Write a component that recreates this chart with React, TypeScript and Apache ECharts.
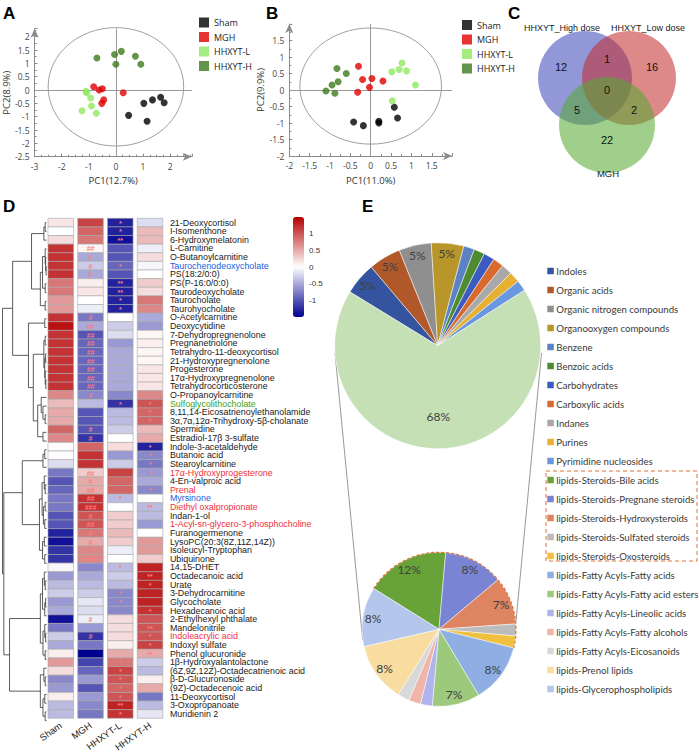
import React, { useEffect, useRef } from "react";
import * as echarts from "echarts";

// ---------------- Panel A / B : PCA ----------------
const groupNames = ["Sham", "MGH", "HHXYT-L", "HHXYT-H"];
const groupColors = ["#000000", "#e00000", "#90e860", "#3e7a1e"];

const pcaA_Sham = [[1.03, -0.5], [1.35, -0.37], [1.65, -0.27], [1.78, -0.48], [0.47, -0.95], [1.15, -1.17]];
const pcaA_MGH = [[-0.82, 0.12], [-0.62, 0.0], [-0.5, 0.05], [-0.45, -0.37], [-0.52, -0.5], [0.27, -0.1]];
const pcaA_L = [[-1.1, -0.05], [-1.08, -0.1], [-0.93, -0.3], [-1.25, -0.78], [-0.9, -0.6], [-0.72, -0.87]];
const pcaA_H = [[-0.7, 1.2], [-0.05, 1.33], [0.2, 1.45], [0.0, 0.97], [0.72, 1.27], [0.92, 0.97]];
const ellipseA = [0, 0.12, 2.5, 2.22];

const pcaB_Sham = [[-0.42, -0.97], [-0.18, -1.08], [0.2, -0.95], [0.2, -1.0], [0.58, -0.52], [0.66, -0.85]];
const pcaB_MGH = [[-0.3, 0.72], [-0.2, 0.32], [0.03, 0.35], [-0.03, 0.08], [-0.32, -0.07], [0.3, 0.27]];
const pcaB_L = [[0.52, 0.55], [0.7, 0.62], [0.77, 0.82], [0.88, 0.58], [1.1, 0.15], [0.53, -0.33]];
const pcaB_H = [[-1.1, -0.03], [-0.95, 0.15], [-0.88, -0.1], [-0.8, 0.25], [-0.83, 0.65], [-0.6, 0.5]];
const ellipseB = [0, 0.12, 1.74, 1.76];

const pcaA = [pcaA_Sham, pcaA_MGH, pcaA_L, pcaA_H];
const pcaB = [pcaB_Sham, pcaB_MGH, pcaB_L, pcaB_H];

// ---------------- Panel C : Venn ----------------
const vennSetLabels = ["HHXYT_High dose", "HHXYT_Low dose", "MGH"];
const vennRegionCounts = [12, 16, 22, 1, 5, 2, 0]; // H, L, M, H∩L, H∩M, L∩M, H∩L∩M

// ---------------- Panel D : heatmap ----------------
const metabolites = [
  "21-Deoxycortisol", "I-Isomenthone", "6-Hydroxymelatonin", "L-Carnitine", "O-Butanoylcarnitine",
  "Taurochenodeoxycholate", "PS(18:2/0:0)", "PS(P-16:0/0:0)", "Taurodeoxycholate", "Taurocholate",
  "Taurohyocholate", "O-Acetylcarnitine", "Deoxycytidine", "7-Dehydropregnenolone", "Pregnanetriolone",
  "Tetrahydro-11-deoxycortisol", "21-Hydroxypregnenolone", "Progesterone", "17α-Hydroxypregnenolone", "Tetrahydrocorticosterone",
  "O-Propanoylcarnitine", "Sulfoglycolithocholate", "8,11,14-Eicosatrienoylethanolamide", "3α,7α,12α-Trihydroxy-5β-cholanate", "Spermidine",
  "Estradiol-17β 3-sulfate", "Indole-3-acetaldehyde", "Butanoic acid", "Stearoylcarnitine", "17α-Hydroxyprogesterone",
  "4-En-valproic acid", "Prenal", "Myrsinone", "Diethyl oxalpropionate", "Indan-1-ol",
  "1-Acyl-sn-glycero-3-phosphocholine", "Furanogermenone", "LysoPC(20:3(8Z,11Z,14Z))", "Isoleucyl-Tryptophan", "Ubiquinone",
  "14,15-DHET", "Octadecanoic acid", "Urate", "3-Dehydrocarnitine", "Glycocholate",
  "Hexadecanoic acid", "2-Ethylhexyl phthalate", "Mandelonitrile", "Indoleacrylic acid", "Indoxyl sulfate",
  "Phenol glucuronide", "1β-Hydroxyalantolactone", "(6Z,9Z,12Z)-Octadecatrienoic acid", "β-D-Glucuronoside", "(9Z)-Octadecenoic acid",
  "11-Deoxycortisol", "3-Oxopropanoate", "Muridienin 2",
];
const blueLabels = ["Taurochenodeoxycholate", "Myrsinone"];
const redLabels = ["17α-Hydroxyprogesterone", "Prenal", "Diethyl oxalpropionate", "1-Acyl-sn-glycero-3-phosphocholine", "Indoleacrylic acid"];
const greenLabels = ["Sulfoglycolithocholate"];

const shamValues = [
  0.15, 0.0, 0.2, 1.2, 1.2, 1.2, 1.2, 0.8, 0.8, 0.6,
  0.6, 1.2, 1.4, 1.2, 1.2, 1.2, 1.2, 1.2, 1.2, 1.2,
  0.7, 0.4, 0.5, 0.5, 0.9, 0.7, 0.02, 0.02, -0.2, -0.8,
  -1.0, -0.9, -0.8, -0.8, -1.0, -1.0, -1.3, -1.4, -1.2, -1.2,
  -0.05, -0.6, -0.4, -0.3, -0.6, -0.5, -1.4, -0.8, -0.3, -0.5,
  0.1, 0.6, 0.2, -0.7, -0.6, 0.1, -0.4, -0.4,
];
const mghValues = [
  1.1, 0.9, 0.8, 0.05, -0.5, -0.3, -0.5, 0.1, 0.15, 0.0,
  -0.1, -0.8, -0.5, -1.0, -0.9, -0.9, -0.9, -0.9, -0.9, -0.9,
  -0.7, -0.4, -1.0, -1.0, -1.0, -1.2, 0.9, 1.2, 1.2, 0.3,
  0.5, 0.5, 1.2, 1.2, 1.0, 1.0, 0.8, 0.5, 0.7, 0.7,
  -0.7, -0.5, -0.4, -0.3, -0.15, -0.2, -0.1, -0.6, -1.2, -0.8,
  -1.5, -1.1, -0.9, -0.6, -1.0, -0.6, -0.7, -0.8,
];
const lowDoseValues = [
  -1.3, -1.3, -1.4, -1.0, -1.0, -0.9, -1.0, -1.3, -1.3, -1.3,
  -1.3, 0.0, -0.3, -0.2, -0.6, -0.5, -0.5, -0.5, -0.5, -0.5,
  -0.7, -1.2, -0.4, -0.4, -0.3, 0.0, 0.2, -0.6, -0.3, 1.1,
  0.9, 0.9, -0.4, 0.0, 0.3, 0.3, 0.4, 0.3, -0.1, 0.0,
  -0.4, -0.3, -0.4, -0.7, -0.7, -0.7, 0.2, 0.2, 0.2, 0.1,
  0.5, 0.8, 1.1, 1.0, 0.9, 1.0, 1.3, 1.2,
];
const highDoseValues = [
  -0.2, 0.4, 0.4, -0.1, 0.2, -0.05, 0.0, 0.3, 0.2, 0.8,
  0.7, -0.5, -0.6, 0.05, 0.1, 0.05, 0.05, 0.15, 0.15, 0.15,
  0.7, 1.0, 0.9, 0.9, 0.4, 0.5, -1.3, -0.7, -0.8, -0.6,
  -0.5, -0.7, 0.0, -0.4, -0.4, -0.6, 0.0, 0.6, 0.6, 0.3,
  1.3, 1.3, 1.3, 1.3, 1.3, 1.2, 1.0, 1.0, 1.0, 1.1,
  0.5, -0.3, -0.4, 0.1, 0.5, -0.8, -0.4, -0.15,
];
const mghMarks = [
  "", "", "", "##", "#", "#", "#", "", "", "",
  "", "#", "##", "##", "##", "##", "##", "##", "##", "##",
  "#", "", "", "", "#", "#", "", "", "", "##",
  "#", "##", "##", "###", "#", "##", "#", "#", "#", "##",
  "", "", "", "", "", "", "#", "", "#", "",
  "", "", "", "", "", "", "", "",
];
const lowDoseMarks = [
  "*", "*", "**", "", "", "*", "", "**", "**", "*",
  "*", "", "", "", "", "", "", "", "", "",
  "", "*", "", "", "", "", "", "", "", "",
  "", "", "*", "", "", "", "", "", "", "",
  "*", "", "", "*", "*", "", "", "", "", "",
  "", "*", "*", "*", "*", "*", "**", "*",
];
const highDoseMarks = [
  "", "", "", "", "", "", "", "", "", "",
  "", "", "", "", "", "", "", "", "", "",
  "", "*", "*", "*", "", "", "*", "*", "*", "*",
  "", "*", "", "**", "", "", "", "", "", "",
  "", "**", "*", "", "", "*", "", "**", "*", "*",
  "**", "", "", "", "", "", "", "",
];
const colorbarTicks = [1, 0.5, 0, -0.5, -1];
const colorbarRange = [-1.5, 1.5];

// dendrogram: leaf = row index, node = [merge height, left, right]
type TNode = number | [number, TNode, TNode];
const dendroTree: TNode = [10,
  [7.7,
    [3.4, [0.6, [0.3, 0, 1], 2], [1.4, [0.9, [0.3, 3, [0.2, 4, [0.1, 5, 6]]], [0.3, 7, 8]], [0.3, 9, 10]]],
    [4.1, [0.4, 11, 12], [3.0,
      [0.6, [0.3, 13, 14], [0.4, [0.2, 15, 16], [0.3, 17, [0.15, 18, 19]]]],
      [2.0, [1.2, 20, [0.8, 21, [0.3, 22, 23]]], [0.8, 24, 25]]]]],
  [9.7,
    [5.5, [0.8, [0.4, 26, 27], 28],
      [1.6, [1.0, [0.5, 29, [0.3, 30, 31]], [0.7, [0.3, 32, 33], [0.4, 34, 35]]], [0.9, [0.5, 36, 37], [0.4, 38, 39]]]],
    [8.4,
      [1.4, [0.9, [0.5, 40, [0.3, 41, 42]], [0.4, [0.2, 43, 44], 45]], [0.8, [0.4, 46, [0.2, 47, 48]], [0.3, 49, 50]]],
      [1.4, [0.6, 51, [0.3, 52, 53]], [0.8, [0.4, 54, 55], [0.3, 56, 57]]]]]];

// ---------------- Panel E : pie of pie ----------------
const pieMainNames = ["Indoles", "Organic acids", "Organic nitrogen compounds", "Organooxygen compounds", "Benzene",
  "Benzoic acids", "Carbohydrates", "Carboxylic acids", "Indanes", "Purines", "Pyrimidine nucleosides", "lipids"];
const pieMainValues = [3, 3, 3, 3, 1, 1, 1, 1, 1, 1, 1, 40];
const pieMainColors = ["#34549f", "#b0582a", "#8f8f8f", "#b8962a", "#5a82c4", "#4e8a30", "#3a5cc0", "#d86a30",
  "#a8a8a8", "#e8b030", "#6a98e0", "#c5e0b4"];
const pieLipidNames = ["lipids-Steroids-Bile acids", "lipids-Steroids-Pregnane steroids", "lipids-Steroids-Hydroxysteroids",
  "lipids-Steroids-Sulfated steroids", "lipids-Steroids-Oxosteroids", "lipids-Fatty Acyls-Fatty acids",
  "lipids-Fatty Acyls-Fatty acid esters", "lipids-Fatty Acyls-Lineolic acids", "lipids-Fatty Acyls-Fatty alcohols",
  "lipids-Fatty Acyls-Eicosanoids", "lipids-Prenol lipids", "lipids-Glycerophospholipids"];
const pieLipidValues = [7, 5, 4, 1, 1, 5, 4, 1, 1, 1, 5, 5];
const pieLipidColors = ["#68a33a", "#7a84d4", "#de8460", "#bcbcbc", "#f0c040", "#8eaee4", "#9dc97c", "#b0b4ec",
  "#f0b4a8", "#d8d8d8", "#f8dca0", "#b4c6ec"];
const steroidNames = pieLipidNames.slice(0, 5);

// ---------------- layout constants ----------------
const HM_LEFT = 45.9, HM_WIDTH = 119, HM_TOP = 218.3, HM_HEIGHT = 506.7;
const LEAF_X = 46.5, DENDRO_SCALE = 4.4;
const PIE1 = { cx: 437.7, cy: 345.7, r: 103, start: 148.5 };
const PIE2 = { cx: 439, cy: 629.3, r: 77, start: 148 };
const LEG_E = { x: 547.3, y: 271, pitch: 19, box: 6.5 };
const FONT_AB = "'Open Sans', sans-serif";
const FONT_ARIAL = "'Liberation Sans', Arial, sans-serif";
const FONT_E = "Lato, 'Open Sans', sans-serif";

function buildDendrogram(): any[] {
  const out: any[] = [];
  const rowH = HM_HEIGHT / metabolites.length;
  const walk = (node: TNode): { x: number; y: number } => {
    if (typeof node === "number") return { x: LEAF_X, y: HM_TOP + (node + 0.5) * rowH };
    const [h, l, r] = node;
    const a = walk(l);
    const b = walk(r);
    const x = LEAF_X - h * DENDRO_SCALE;
    out.push({
      type: "polyline", silent: true,
      shape: { points: [[a.x, a.y], [x, a.y], [x, b.y], [b.x, b.y]] },
      style: { stroke: "#333", lineWidth: 0.8, fill: "none" },
    });
    return { x, y: (a.y + b.y) / 2 };
  };
  walk(dendroTree);
  return out;
}

function txt(text: string, x: number, y: number, font: string, fill = "#000", align = "left", vAlign = "middle") {
  return {
    type: "text", x, y, silent: true,
    style: { text, font, fill, textAlign: align, align, textVerticalAlign: vAlign, verticalAlign: vAlign },
  };
}

function pcaAxis(grid: number, min: number, max: number, interval: number, name: string, nameGap: number, minorSplit: number) {
  return {
    gridIndex: grid, type: "value", min, max, interval, name, nameLocation: "middle", nameGap,
    nameTextStyle: { fontSize: 9.5, color: "#333", fontFamily: FONT_AB },
    axisLine: { show: true, onZero: false, symbol: ["none", "arrow"], symbolSize: [6, 9], lineStyle: { color: "#8a8a8a", width: 1 } },
    axisTick: { show: true, inside: true, length: 3, lineStyle: { color: "#8a8a8a" } },
    minorTick: { show: true, splitNumber: minorSplit, length: 2, lineStyle: { color: "#8a8a8a" } },
    axisLabel: { fontSize: 8.5, color: "#444", margin: 5, showMaxLabel: false, fontFamily: FONT_AB },
    splitLine: { show: false },
    minorSplitLine: { show: false },
  };
}

function ellipseSeries(xi: number, e: number[]) {
  return {
    type: "custom", xAxisIndex: xi, yAxisIndex: xi, silent: true, data: [e], encode: { x: 0, y: 1 },
    renderItem: (_p: any, api: any) => {
      const c = api.coord([api.value(0), api.value(1)]);
      const s = api.size([api.value(2), api.value(3)]);
      return { type: "ellipse", shape: { cx: c[0], cy: c[1], rx: s[0], ry: s[1] }, style: { fill: "none", stroke: "#a0a0a0", lineWidth: 1 } };
    },
    markLine: {
      silent: true, symbol: ["none", "none"], label: { show: false },
      lineStyle: { color: "#9a9a9a", type: "solid", width: 1 },
      data: [{ xAxis: 0 }, { yAxis: 0 }],
    },
  };
}

export default function App() {
  const ref = useRef<HTMLDivElement>(null);
  useEffect(() => {
    if (!ref.current) return;
    const chart = echarts.init(ref.current, null, { renderer: "svg" });

    const grand = pieMainValues.reduce((a, b) => a + b, 0);
    const heatData: any[] = [];
    const markLookup: string[] = [];
    const cols = [shamValues, mghValues, lowDoseValues, highDoseValues];
    const colMarks = [metabolites.map(() => ""), mghMarks, lowDoseMarks, highDoseMarks];
    metabolites.forEach((_, i) => {
      cols.forEach((vals, j) => {
        heatData.push([j, i, vals[i]]);
        markLookup.push(colMarks[j][i]);
      });
    });

    const series: any[] = [];
    pcaA.forEach((pts, g) => series.push({ type: "scatter", name: groupNames[g], xAxisIndex: 0, yAxisIndex: 0, data: pts, symbolSize: 7, itemStyle: { color: groupColors[g] }, z: 5 }));
    series.push(ellipseSeries(0, ellipseA));
    pcaB.forEach((pts, g) => series.push({ type: "scatter", name: groupNames[g], xAxisIndex: 1, yAxisIndex: 1, data: pts, symbolSize: 7, itemStyle: { color: groupColors[g] }, z: 5 }));
    series.push(ellipseSeries(1, ellipseB));
    const heatIndex = series.length;
    series.push({
      type: "custom", xAxisIndex: 2, yAxisIndex: 2, data: heatData, encode: { x: 0, y: 1 }, silent: true,
      renderItem: (params: any, api: any) => {
        const p = api.coord([api.value(0), api.value(1)]);
        const band = api.size([1, 1]);
        const w = band[0] * 0.86, h = band[1];
        const mark = markLookup[params.dataIndex];
        const children: any[] = [{
          type: "rect", shape: { x: p[0] - w / 2, y: p[1] - h / 2, width: w, height: h },
          style: { fill: api.visual("color"), stroke: "#a8a8a8", lineWidth: 0.6 },
        }];
        if (mark) children.push({
          type: "text", x: p[0], y: p[1] + 0.5,
          style: { text: mark, fill: "#ff7a7a", font: "bold 7px 'Liberation Sans', sans-serif", textAlign: "center", align: "center", textVerticalAlign: "middle", verticalAlign: "middle" },
        });
        return { type: "group", children };
      },
    });

    const pieMainData = pieMainNames.map((n, i) => ({ name: n, value: pieMainValues[i], itemStyle: { color: pieMainColors[i] } }));
    const pieLipidData = pieLipidNames.map((n, i) => ({ name: n, value: pieLipidValues[i], itemStyle: { color: pieLipidColors[i] } }));
    const transparent = (d: any[]) => d.map((x) => ({ ...x, itemStyle: { color: "rgba(0,0,0,0)", borderWidth: 0 } }));
    const pieCommon = { clockwise: true, silent: true, legendHoverLink: false, emphasis: { disabled: true }, labelLine: { show: false } };
    const pctLabel = (v: number) => Math.round((v / grand) * 100) + "%";
    series.push({ ...pieCommon, type: "pie", center: [PIE1.cx, PIE1.cy], radius: [0, PIE1.r], startAngle: PIE1.start, data: pieMainData, label: { show: false }, itemStyle: { borderColor: "#fff", borderWidth: 0.5 } });
    series.push({ ...pieCommon, type: "pie", center: [PIE1.cx, PIE1.cy], radius: [PIE1.r * 0.74, PIE1.r], startAngle: PIE1.start, data: transparent(pieMainData),
      label: { show: true, position: "inside", fontSize: 12, color: "#404040", fontFamily: FONT_E, formatter: (p: any) => (p.name !== "lipids" && p.value >= 3 ? pctLabel(p.value) : "") } });
    series.push({ ...pieCommon, type: "pie", center: [PIE1.cx, PIE1.cy], radius: [PIE1.r * 0.32, PIE1.r], startAngle: PIE1.start, data: transparent(pieMainData),
      label: { show: true, position: "inside", fontSize: 12, color: "#404040", fontFamily: FONT_E, formatter: (p: any) => (p.name === "lipids" ? pctLabel(p.value) : "") } });
    series.push({ ...pieCommon, type: "pie", center: [PIE2.cx, PIE2.cy], radius: [0, PIE2.r], startAngle: PIE2.start, data: pieLipidData, label: { show: false }, itemStyle: { borderColor: "#fff", borderWidth: 0.5 } });
    series.push({ ...pieCommon, type: "pie", center: [PIE2.cx, PIE2.cy], radius: [PIE2.r * 0.66, PIE2.r], startAngle: PIE2.start, data: transparent(pieLipidData),
      label: { show: true, position: "inside", fontSize: 12, color: "#404040", fontFamily: FONT_E, formatter: (p: any) => (p.value >= 4 ? pctLabel(p.value) : "") } });

    // graphics
    const graphics: any[] = [];
    const letterFont = "bold 17px 'Liberation Sans', Arial, sans-serif";
    graphics.push(txt("A", 3, 13, letterFont), txt("B", 266, 13, letterFont), txt("C", 508, 13, letterFont), txt("D", 3, 206, letterFont), txt("E", 362, 206, letterFont));

    // Venn
    const vennCircles = [
      { cx: 585, cy: 78, r: 47, fill: "rgba(60,70,185,0.56)" },
      { cx: 629, cy: 78, r: 47, fill: "rgba(195,45,45,0.56)" },
      { cx: 607, cy: 125, r: 48, fill: "rgba(85,170,50,0.56)" },
    ];
    vennCircles.forEach((c) => graphics.push({ type: "circle", silent: true, shape: { cx: c.cx, cy: c.cy, r: c.r }, style: { fill: c.fill, stroke: "none" } }));
    const vennPos = [[561, 67], [652, 67], [607, 140], [607, 59], [577, 110], [634, 110], [607, 90]];
    vennRegionCounts.forEach((n, i) => graphics.push(txt(String(n), vennPos[i][0], vennPos[i][1], `11px ${FONT_ARIAL}`, "#111", "center")));
    graphics.push(txt(vennSetLabels[0], 562, 28, `9px ${FONT_ARIAL}`, "#222", "center"));
    graphics.push(txt(vennSetLabels[1], 648, 28, `9px ${FONT_ARIAL}`, "#222", "center"));
    graphics.push(txt(vennSetLabels[2], 608, 173, `9.5px ${FONT_ARIAL}`, "#222", "center"));

    // dendrogram
    graphics.push(...buildDendrogram());

    // colorbar tick labels
    const cbTop = 217, cbH = 100;
    colorbarTicks.forEach((v) => {
      const y = cbTop + ((colorbarRange[1] - v) / (colorbarRange[1] - colorbarRange[0])) * cbH;
      graphics.push(txt(String(v), 309, y, `8px ${FONT_ARIAL}`, "#333", "left"));
    });

    // pie-of-pie connectors and steroid outline
    graphics.push({ type: "line", silent: true, shape: { x1: 541.5, y1: 353, x2: 516, y2: 621 }, style: { stroke: "#7f7f7f", lineWidth: 0.8 } });
    graphics.push({ type: "line", silent: true, shape: { x1: 335, y1: 353, x2: 362.7, y2: 640 }, style: { stroke: "#7f7f7f", lineWidth: 0.8 } });
    const lipidTotal = pieLipidValues.reduce((a, b) => a + b, 0);
    const steroidSum = pieLipidValues.filter((_, i) => steroidNames.includes(pieLipidNames[i])).reduce((a, b) => a + b, 0);
    const a0 = (-PIE2.start * Math.PI) / 180;
    const a1 = a0 + (steroidSum / lipidTotal) * Math.PI * 2;
    graphics.push({ type: "arc", silent: true, shape: { cx: PIE2.cx, cy: PIE2.cy, r: PIE2.r, startAngle: a0, endAngle: a1, clockwise: true },
      style: { stroke: "#e07030", lineWidth: 1.2, lineDash: [3, 2], fill: "none" }, z: 10 });
    graphics.push({ type: "rect", silent: true, shape: { x: 546, y: 471, width: 151, height: 90 }, style: { stroke: "#e07030", lineWidth: 1, lineDash: [4, 3], fill: "none" } });

    // legend of panel E (names and colours from the pie data)
    const legendNames = [...pieMainNames.filter((n) => n !== "lipids"), ...pieLipidNames];
    const legendColors = [...pieMainColors.slice(0, pieMainNames.length - 1), ...pieLipidColors];
    legendNames.forEach((n, i) => {
      const y = LEG_E.y + i * LEG_E.pitch;
      graphics.push({ type: "rect", silent: true, shape: { x: LEG_E.x, y: y - LEG_E.box / 2, width: LEG_E.box, height: LEG_E.box }, style: { fill: legendColors[i] } });
      graphics.push(txt(n, LEG_E.x + 9, y, `9.6px ${FONT_E}`, "#3a3a3a", "left"));
    });

    chart.setOption({
      animation: false,
      backgroundColor: "#fff",
      grid: [
        { left: 32.3, top: 28.7, width: 159.5, height: 128 },
        { left: 289.3, top: 24, width: 162.8, height: 132 },
        { left: HM_LEFT, top: HM_TOP, width: HM_WIDTH, height: HM_HEIGHT },
      ],
      xAxis: [
        pcaAxis(0, -3, 2.8, 1, "PC1(12.7%)", 19, 4),
        pcaAxis(1, -2, 2, 0.5, "PC1(11.0%)", 19, 2),
        {
          gridIndex: 2, type: "category", data: groupNames, position: "bottom",
          axisLine: { show: false }, axisTick: { show: false },
          axisLabel: { rotate: 35, fontSize: 9.5, color: "#222", margin: 6, fontFamily: FONT_ARIAL, interval: 0 },
        },
      ],
      yAxis: [
        pcaAxis(0, -2.5, 2.3, 0.5, "PC2(8.9%)", 22, 2),
        pcaAxis(1, -2, 2, 0.5, "PC2(9.9%)", 24, 2),
        {
          gridIndex: 2, type: "category", data: metabolites, inverse: true, position: "right",
          axisLine: { show: false }, axisTick: { show: false }, splitLine: { show: false },
          axisLabel: {
            interval: 0, fontSize: 8.9, margin: 5, fontFamily: FONT_ARIAL,
            color: (v: string) => (blueLabels.includes(v) ? "#2060e0" : redLabels.includes(v) ? "#f03040" : greenLabels.includes(v) ? "#40a020" : "#1a1a1a"),
          },
        },
      ],
      visualMap: {
        type: "continuous", seriesIndex: heatIndex, dimension: 2, min: colorbarRange[0], max: colorbarRange[1],
        calculable: false, itemWidth: 11, itemHeight: 100, left: 293, top: 217, padding: 0, text: null, showLabel: false,
        inRange: { color: ["#000090", "#ffffff", "#b40000"] },
      },
      legend: [
        { data: groupNames, orient: "vertical", left: 199, top: 17.5, padding: 0, itemWidth: 10, itemHeight: 10, itemGap: 4.5, icon: "rect", selectedMode: false,
          textStyle: { fontSize: 9, color: "#222", fontFamily: FONT_AB } },
        { data: groupNames, orient: "vertical", left: 462, top: 20, padding: 0, itemWidth: 10, itemHeight: 10, itemGap: 4.5, icon: "rect", selectedMode: false,
          textStyle: { fontSize: 9, color: "#222", fontFamily: FONT_AB } },
      ],
      graphic: graphics,
      series,
    });
    return () => chart.dispose();
  }, []);
  return <div ref={ref} style={{ position: "fixed", left: 0, top: 0, width: 699, height: 754, background: "#fff" }} />;
}
